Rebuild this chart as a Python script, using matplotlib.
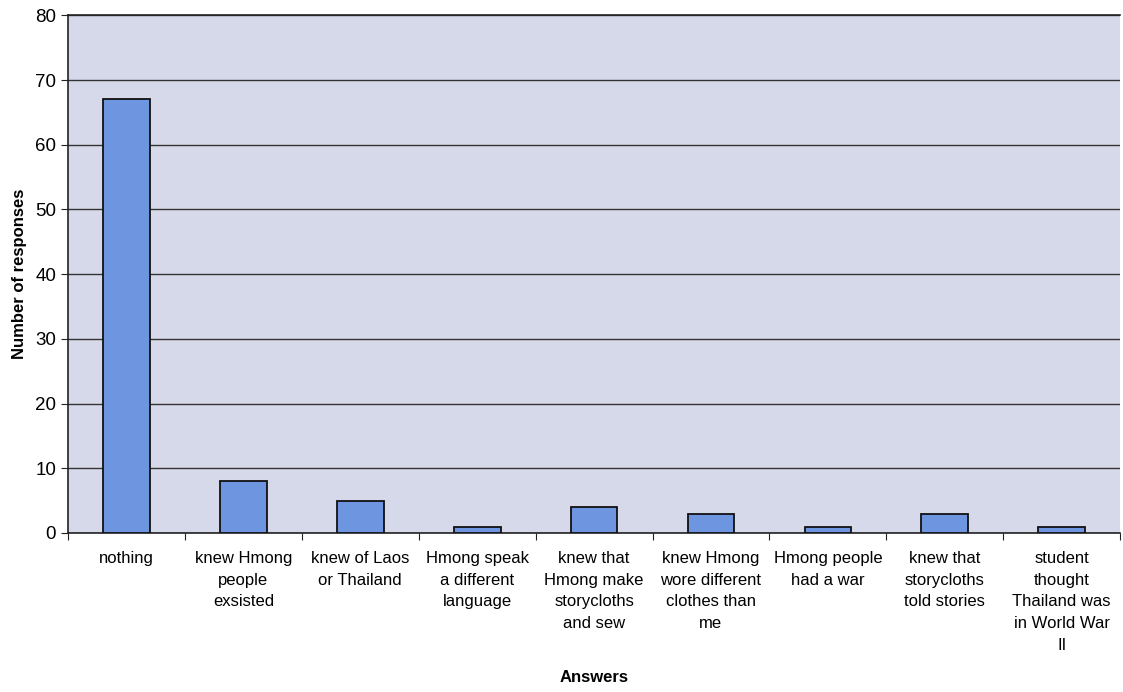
import numpy as np
import matplotlib
matplotlib.use("Agg")
import matplotlib.pyplot as plt

plt.rcParams['font.family'] = ['Liberation Sans', 'DejaVu Sans']

answers = [
    "nothing",
    "knew Hmong\npeople\nexsisted",
    "knew of Laos\nor Thailand",
    "Hmong speak\na different\nlanguage",
    "knew that\nHmong make\nstorycloths\nand sew",
    "knew Hmong\nwore different\nclothes than\nme",
    "Hmong people\nhad a war",
    "knew that\nstorycloths\ntold stories",
    "student\nthought\nThailand was\nin World War\nII",
]
responses = [67, 8, 5, 1, 4, 3, 1, 3, 1]
y_ticks = [0, 10, 20, 30, 40, 50, 60, 70, 80]

fig = plt.figure(figsize=(11.23, 6.92), dpi=100)
ax = fig.add_axes([0.0605, 0.2298, 0.937, 0.748])
ax.set_facecolor('#d6d9e9')

x = np.arange(len(answers))
ax.bar(x, responses, width=0.4, color='#6e95e0', edgecolor='#111111',
       linewidth=1.3, zorder=3)

ax.set_xlim(-0.5, len(answers) - 0.5)
ax.set_ylim(0, 80)
ax.set_yticks(y_ticks)
ax.yaxis.grid(True, color='#333333', linewidth=1.0, zorder=1)
ax.set_axisbelow(True)

# category boundaries get the tick marks, labels sit at the bar centres
ax.set_xticks(np.arange(-0.5, len(answers)), minor=False)
ax.set_xticklabels([])
ax.set_xticks(x, minor=True)
ax.set_xticklabels(answers, minor=True, fontsize=12, linespacing=1.56)
ax.tick_params(axis='x', which='minor', length=0, pad=13)
ax.tick_params(axis='x', which='major', length=5, direction='out', color='#222222')
ax.tick_params(axis='y', length=5, direction='out', labelsize=13.5, color='#222222')

for side in ['top', 'left', 'bottom']:
    ax.spines[side].set_color('#222222')
    ax.spines[side].set_linewidth(1.2)
ax.spines['right'].set_visible(False)

ax.set_ylabel('Number of responses', fontsize=12, fontweight='bold', labelpad=6)
ax.set_xlabel('Answers', fontsize=12, fontweight='bold', labelpad=12)

fig.savefig('out.png', dpi=100)
